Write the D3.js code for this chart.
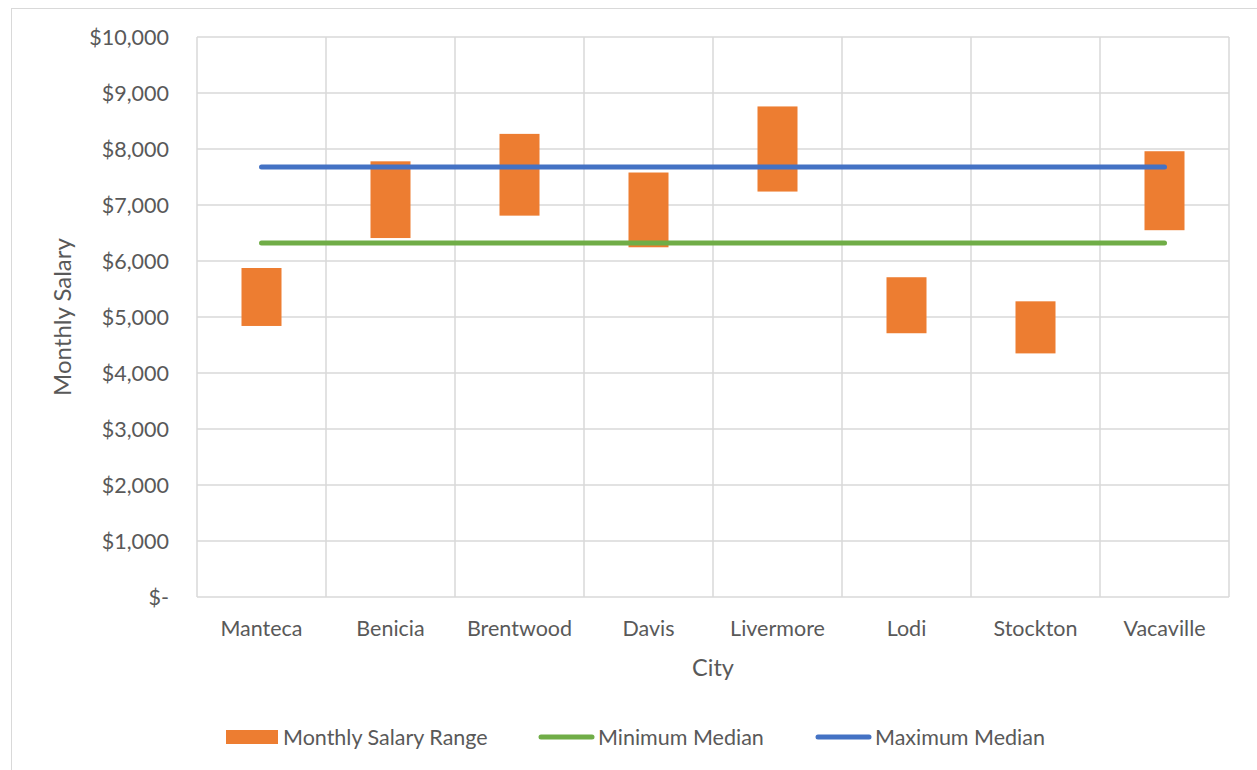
<!DOCTYPE html>
<html>
<head>
<meta charset="utf-8">
<script src="https://cdn.jsdelivr.net/npm/d3@7"></script>
<style>
  body { margin: 0; background: #fff; }
  text { font-family: Lato, "Open Sans", sans-serif; fill: #595959; }
</style>
</head>
<body>
<svg id="chart" width="1257" height="770"></svg>
<script>
// data
const cities = ["Manteca", "Benicia", "Brentwood", "Davis", "Livermore", "Lodi", "Stockton", "Vacaville"];
const rangeLow  = [4840, 6410, 6810, 6245, 7240, 4710, 4350, 6550];
const rangeHigh = [5875, 7780, 8270, 7580, 8760, 5710, 5280, 7960];
const minMedian = [6320, 6320, 6320, 6320, 6320, 6320, 6320, 6320];
const maxMedian = [7680, 7680, 7680, 7680, 7680, 7680, 7680, 7680];
const yTicks = [0, 1000, 2000, 3000, 4000, 5000, 6000, 7000, 8000, 9000, 10000];

const svg = d3.select("#chart");

// outer chart border
svg.append("rect")
  .attr("x", 11.5).attr("y", 8.5)
  .attr("width", 1300).attr("height", 800)
  .attr("fill", "none").attr("stroke", "#d9d9d9");

const plotLeft = 197, plotRight = 1229, plotTop = 37, plotBottom = 597;

const x = d3.scaleBand().domain(cities).range([plotLeft, plotRight]);
const y = d3.scaleLinear().domain([0, 10000]).range([plotBottom, plotTop]);

// gridlines
svg.append("g").selectAll("line")
  .data(yTicks)
  .enter().append("line")
  .attr("x1", plotLeft).attr("x2", plotRight)
  .attr("y1", d => y(d)).attr("y2", d => y(d))
  .attr("stroke", "#d9d9d9").attr("stroke-width", 1.5);

svg.append("g").selectAll("line")
  .data(cities.concat(["end"]))
  .enter().append("line")
  .attr("x1", (d, i) => plotLeft + i * x.step()).attr("x2", (d, i) => plotLeft + i * x.step())
  .attr("y1", plotTop).attr("y2", plotBottom)
  .attr("stroke", "#d9d9d9").attr("stroke-width", 1.5);

// y axis labels
const fmt = d => d === 0 ? "$-" : "$" + d3.format(",")(d);
svg.append("g").selectAll("text")
  .data(yTicks)
  .enter().append("text")
  .attr("x", 169).attr("y", d => y(d))
  .attr("dy", "0.35em")
  .attr("text-anchor", "end")
  .attr("font-size", 21.5)
  .text(fmt);

// x axis labels
svg.append("g").selectAll("text")
  .data(cities)
  .enter().append("text")
  .attr("x", d => x(d) + x.bandwidth() / 2)
  .attr("y", 628).attr("dy", "0.35em")
  .attr("text-anchor", "middle")
  .attr("font-size", 21.5)
  .text(d => d);

// axis titles
svg.append("text")
  .attr("x", (plotLeft + plotRight) / 2).attr("y", 668).attr("dy", "0.35em")
  .attr("text-anchor", "middle").attr("font-size", 23.5)
  .text("City");

svg.append("text")
  .attr("transform", "translate(63," + ((plotTop + plotBottom) / 2) + ") rotate(-90)")
  .attr("dy", "0.35em")
  .attr("text-anchor", "middle").attr("font-size", 24)
  .text("Monthly Salary");

// floating range bars
const barW = 40;
svg.append("g").selectAll("rect")
  .data(cities)
  .enter().append("rect")
  .attr("x", d => x(d) + x.bandwidth() / 2 - barW / 2)
  .attr("width", barW)
  .attr("y", (d, i) => y(rangeHigh[i]))
  .attr("height", (d, i) => y(rangeLow[i]) - y(rangeHigh[i]))
  .attr("fill", "#ed7d31");

// median lines
const line = d3.line()
  .x((d, i) => x(cities[i]) + x.bandwidth() / 2)
  .y(d => y(d));

svg.append("path").datum(minMedian)
  .attr("d", line)
  .attr("fill", "none").attr("stroke", "#70ad47")
  .attr("stroke-width", 5).attr("stroke-linecap", "round");

svg.append("path").datum(maxMedian)
  .attr("d", line)
  .attr("fill", "none").attr("stroke", "#4472c4")
  .attr("stroke-width", 5).attr("stroke-linecap", "round");

// legend
const leg = svg.append("g");
leg.append("rect").attr("x", 226).attr("y", 730).attr("width", 52).attr("height", 14).attr("fill", "#ed7d31");
leg.append("text").attr("x", 283).attr("y", 737).attr("dy", "0.35em").attr("font-size", 21.5).text("Monthly Salary Range");

leg.append("line").attr("x1", 541).attr("x2", 592).attr("y1", 737).attr("y2", 737)
  .attr("stroke", "#70ad47").attr("stroke-width", 5).attr("stroke-linecap", "round");
leg.append("text").attr("x", 598).attr("y", 737).attr("dy", "0.35em").attr("font-size", 21.5).text("Minimum Median");

leg.append("line").attr("x1", 818).attr("x2", 869).attr("y1", 737).attr("y2", 737)
  .attr("stroke", "#4472c4").attr("stroke-width", 5).attr("stroke-linecap", "round");
leg.append("text").attr("x", 875).attr("y", 737).attr("dy", "0.35em").attr("font-size", 21.5).text("Maximum Median");
</script>
</body>
</html>
